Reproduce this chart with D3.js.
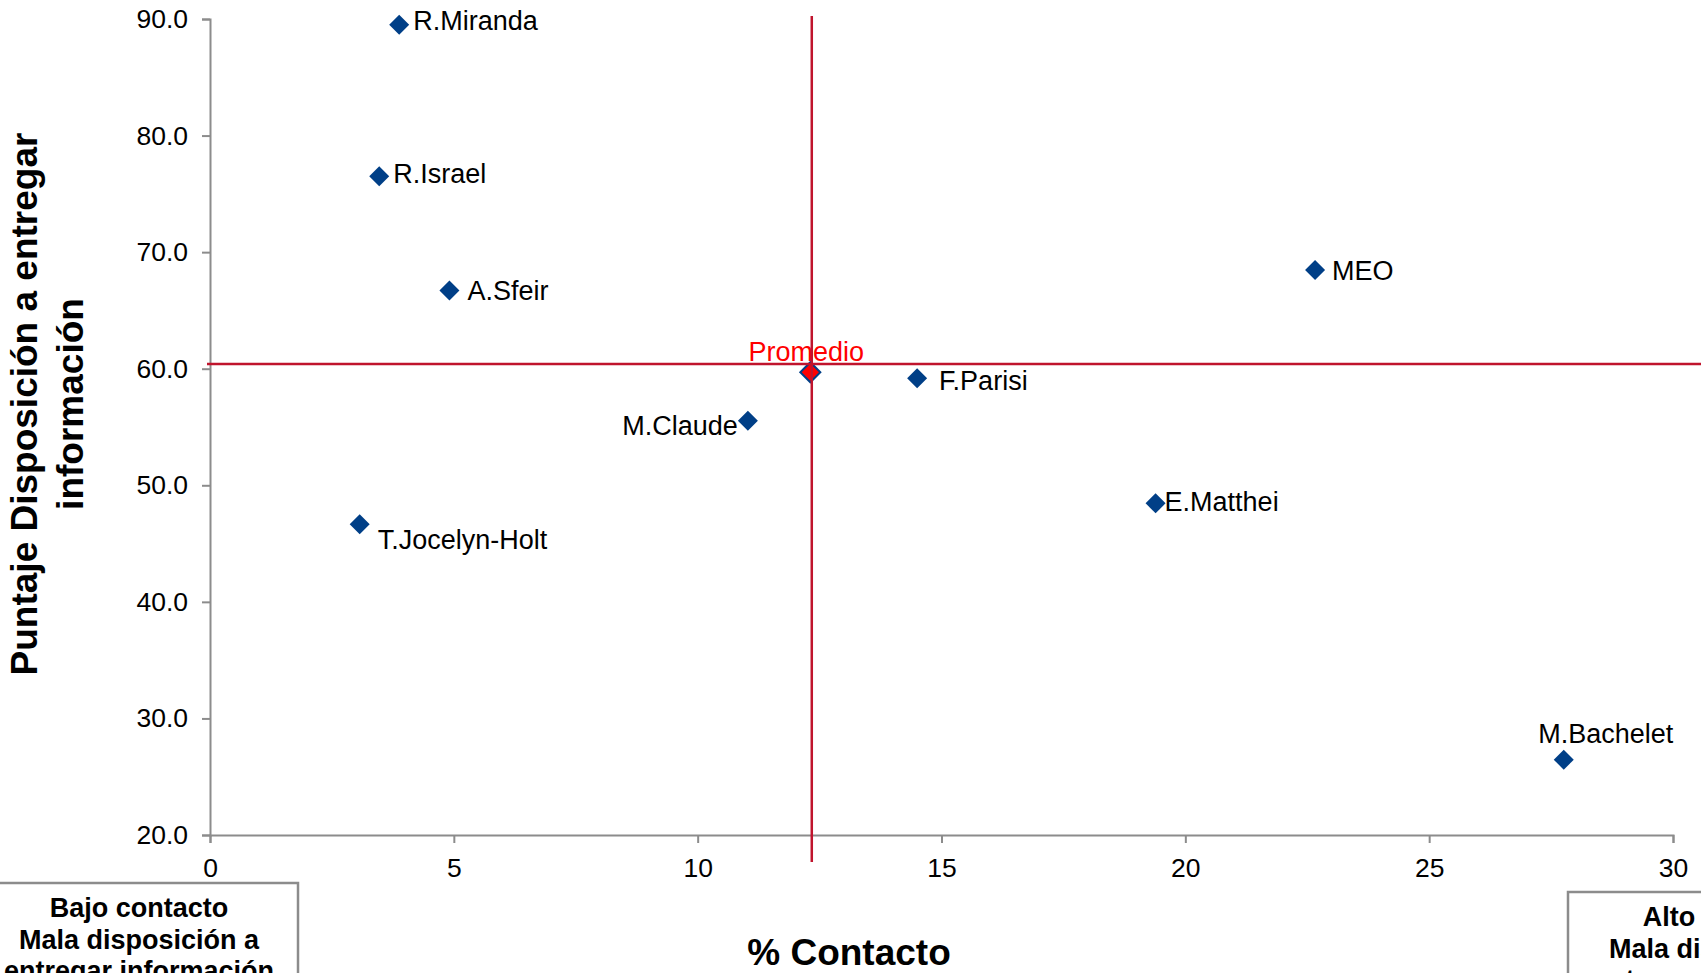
<!DOCTYPE html>
<html>
<head>
<meta charset="utf-8">
<script src="https://cdn.jsdelivr.net/npm/d3@7"></script>
<style>
  html, body { margin: 0; padding: 0; background: #ffffff; }
  svg { display: block; font-family: "Liberation Sans", Arial, sans-serif; }
</style>
</head>
<body>
<svg id="chart" width="1701" height="973"></svg>
<script>
// ---- data ----
const names = ["R.Miranda", "R.Israel", "A.Sfeir", "T.Jocelyn-Holt", "M.Claude", "F.Parisi", "E.Matthei", "MEO", "M.Bachelet"];
const contacto = [3.88, 3.47, 4.91, 3.07, 11.03, 14.5, 19.39, 22.66, 27.76];
const puntaje = [89.5, 76.5, 66.7, 46.65, 55.54, 59.18, 48.45, 68.47, 26.46];
const promedioLabel = "Promedio";
const promedioPoint = [12.31, 59.7];
const promedioLines = [12.34, 60.4];
const xTicks = [0, 5, 10, 15, 20, 25, 30];
const yTicks = [20, 30, 40, 50, 60, 70, 80, 90];
const xTitle = "% Contacto";
const yTitleLines = ["Puntaje Disposición a entregar", "información"];
const boxLeftLines = ["Bajo contacto", "Mala disposición  a", "entregar información"];
const boxRightLines = ["Alto contacto", "Mala disposición  a", "entregar información"];

// ---- layout (label placement relative to marker: dx, dy, anchor) ----
const labelPlacement = [
  [14, 5, "start"], [14, 7, "start"], [18, 9, "start"], [18, 25, "start"],
  [-10, 14, "end"], [22, 12, "start"], [9, 8, "start"], [17, 10, "start"],
  [42, -17, "middle"]
];

const svg = d3.select("#chart");
const x = d3.scaleLinear().domain([0, 30]).range([210, 1673]);
const y = d3.scaleLinear().domain([20, 90]).range([835, 19]);

const axisColor = "#8c8c8c";
const lineRed = "#c0142d";
const navy = "#003f87";

// axes
const gx = svg.append("g").attr("transform", "translate(0,835)")
  .call(d3.axisBottom(x).tickValues(xTicks).tickFormat(d3.format("d")).tickSize(8).tickPadding(15));
const gy = svg.append("g").attr("transform", "translate(210,0)")
  .call(d3.axisLeft(y).tickValues(yTicks).tickFormat(d3.format(".1f")).tickSize(8).tickPadding(14));
[gx, gy].forEach(g => {
  g.select(".domain").attr("stroke", axisColor).attr("stroke-width", 2);
  g.selectAll(".tick line").attr("stroke", axisColor).attr("stroke-width", 2);
  g.selectAll(".tick text").attr("fill", "#000").style("font-size", "26.5px")
    .style("font-family", "'Liberation Sans', Arial, sans-serif");
});

// diamond generator
const diamond = d3.symbol().type(d3.symbolSquare).size(200);

// markers
const pts = names.map((n, i) => ({ name: n, cx: contacto[i], cy: puntaje[i], lp: labelPlacement[i] }));
svg.append("g").selectAll("path").data(pts).join("path")
  .attr("d", diamond)
  .attr("transform", d => `translate(${x(d.cx)},${y(d.cy)}) rotate(45)`)
  .attr("fill", navy);

// labels
svg.append("g").selectAll("text").data(pts).join("text")
  .attr("x", d => x(d.cx) + d.lp[0])
  .attr("y", d => y(d.cy) + d.lp[1])
  .attr("text-anchor", d => d.lp[2])
  .style("font-size", "27px")
  .attr("fill", "#000")
  .text(d => d.name);

// promedio marker
svg.append("path")
  .attr("d", diamond)
  .attr("transform", `translate(${x(promedioPoint[0])},${y(promedioPoint[1])}) rotate(45)`)
  .attr("fill", "#ff0000")
  .attr("stroke", navy)
  .attr("stroke-width", 2);

// promedio label
svg.append("text")
  .attr("x", x(promedioPoint[0]) - 4)
  .attr("y", y(promedioPoint[1]) - 11)
  .attr("text-anchor", "middle")
  .style("font-size", "27px")
  .attr("fill", "#ff0000")
  .text(promedioLabel);

// average lines (extend beyond plot)
svg.append("line")
  .attr("x1", x(promedioLines[0])).attr("x2", x(promedioLines[0]))
  .attr("y1", y(90) - 3).attr("y2", y(20) + 27)
  .attr("stroke", lineRed).attr("stroke-width", 2.5);
svg.append("line")
  .attr("x1", x(0) - 3).attr("x2", 1701)
  .attr("y1", y(promedioLines[1])).attr("y2", y(promedioLines[1]))
  .attr("stroke", lineRed).attr("stroke-width", 2.5);

// axis titles
svg.append("text")
  .attr("x", 849).attr("y", 965)
  .attr("text-anchor", "middle")
  .style("font-size", "37px").style("font-weight", "bold")
  .text(xTitle);

const yt = svg.append("text")
  .attr("transform", "translate(47,404) rotate(-90)")
  .attr("text-anchor", "middle")
  .style("font-size", "37px").style("font-weight", "bold");
yt.selectAll("tspan").data(yTitleLines).join("tspan")
  .attr("x", 0)
  .attr("y", (d, i) => -10 + i * 46)
  .text(d => d);

// quadrant boxes
function quadBox(left, top, lines) {
  const g = svg.append("g");
  g.append("rect")
    .attr("x", left).attr("y", top).attr("width", 320).attr("height", 200)
    .attr("fill", "#fff").attr("stroke", "#8c8c8c").attr("stroke-width", 2.5);
  g.append("text")
    .attr("text-anchor", "middle")
    .style("font-size", "27px").style("font-weight", "bold")
    .selectAll("tspan").data(lines).join("tspan")
    .attr("x", left + 161)
    .attr("y", (d, i) => top + 34 + i * 31.5)
    .text(d => d);
}
quadBox(-22, 883, boxLeftLines);
quadBox(1568, 892, boxRightLines);
</script>
</body>
</html>
